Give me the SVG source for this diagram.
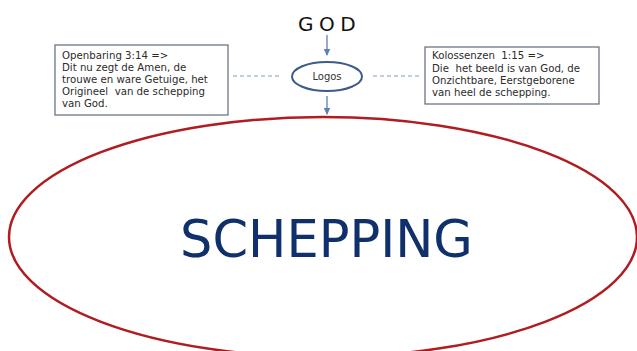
<svg xmlns="http://www.w3.org/2000/svg" width="637" height="351" viewBox="0 0 637 351">
<defs>
<marker id="ah" markerWidth="8" markerHeight="8" refX="6" refY="4" orient="auto" markerUnits="userSpaceOnUse">
<path d="M0,0.8 L7,4 L0,7.2 Z" fill="#5a82b4"/>
</marker>
<style>
.box{fill:#fff;stroke:#5f6b78;stroke-width:1.2}
.bt{font-family:"DejaVu Sans",Verdana,sans-serif;font-size:10.2px;fill:#2b2b2b;white-space:pre}
.dash{stroke:#7f9cc4;stroke-width:1;stroke-dasharray:4,3;fill:none}
.arr{stroke:#5a82b4;stroke-width:1.3;fill:none;marker-end:url(#ah)}
</style>
</defs>
<rect width="637" height="351" fill="#fff"/>
<g id="schepping">
<ellipse cx="323" cy="237" rx="314" ry="120" fill="none" stroke="#b01c20" stroke-width="2.5"/>
<text x="326.5" y="257" text-anchor="middle" font-family="'DejaVu Sans',Verdana,sans-serif" font-size="51" fill="#10306c">SCHEPPING</text>
</g>
<g id="connectors">
<line class="arr" x1="327" y1="35" x2="327" y2="55"/>
<line class="arr" x1="327" y1="96" x2="327" y2="114"/>
<line class="dash" x1="233" y1="76" x2="281" y2="76"/>
<line class="dash" x1="373" y1="76" x2="421" y2="76"/>
</g>
<g id="god">
<text x="298" y="31" font-family="'DejaVu Sans',Verdana,sans-serif" font-size="20" letter-spacing="5.5" fill="#111">GOD</text>
</g>
<g id="logos">
<ellipse cx="327" cy="76.5" rx="35" ry="14.5" fill="#fff" stroke="#3d5b8a" stroke-width="2"/>
<text x="327" y="80" text-anchor="middle" font-family="'DejaVu Sans',Verdana,sans-serif" font-size="10" fill="#333">Logos</text>
</g>
<g id="openbaring">
<rect class="box" x="55" y="45" width="173" height="70"/>
<text class="bt" xml:space="preserve"><tspan x="62" y="58.5">Openbaring 3:14 =&gt;</tspan><tspan x="62" y="71">Dit nu zegt de Amen, de</tspan><tspan x="62" y="83">trouwe en ware Getuige, het</tspan><tspan x="62" y="95">Origineel  van de schepping</tspan><tspan x="62" y="107">van God.</tspan></text>
</g>
<g id="kolossenzen">
<rect class="box" x="425" y="47" width="174" height="57"/>
<text class="bt" xml:space="preserve"><tspan x="432" y="59">Kolossenzen  1:15 =&gt;</tspan><tspan x="432" y="72">Die  het beeld is van God, de</tspan><tspan x="432" y="84">Onzichtbare, Eerstgeborene</tspan><tspan x="432" y="96">van heel de schepping.</tspan></text>
</g>
</svg>
